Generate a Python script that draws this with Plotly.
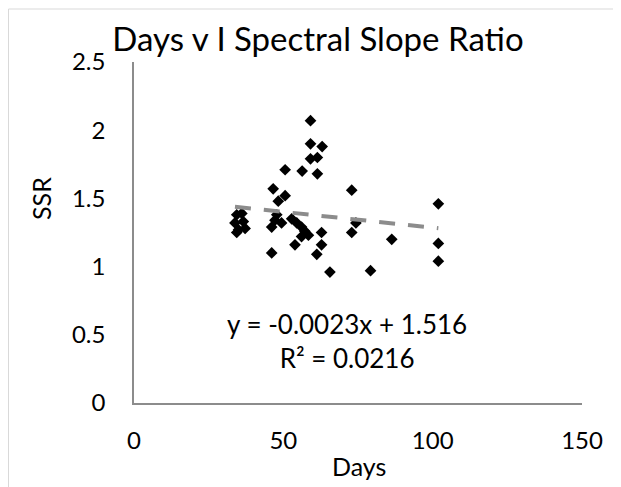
import plotly.graph_objects as go

days = [34.4, 36.1, 33.8, 36.6, 35.0, 37.2, 34.4,
        46.6, 50.6, 48.3, 50.6, 56.3, 61.4, 59.1, 59.1, 63.0, 59.1, 61.4,
        47.8, 46.1, 49.4, 47.2, 52.8, 54.5, 56.1, 57.2, 58.4, 56.1, 62.8,
        53.9, 62.8, 61.2, 46.1, 65.6,
        72.9, 101.9, 74.3, 72.9, 86.3, 101.9, 101.9, 79.2]
ssr = [1.38, 1.39, 1.32, 1.33, 1.27, 1.28, 1.25,
       1.57, 1.52, 1.48, 1.71, 1.70, 1.68, 2.07, 1.90, 1.88, 1.79, 1.80,
       1.38, 1.29, 1.32, 1.34, 1.35, 1.32, 1.29, 1.26, 1.23, 1.22, 1.25,
       1.16, 1.16, 1.09, 1.10, 0.96,
       1.56, 1.46, 1.32, 1.25, 1.20, 1.17, 1.04, 0.97]

slope = -0.0023
intercept = 1.516
r2 = 0.0216

x_ticks = [0, 50, 100, 150]
y_ticks = [0, 0.5, 1, 1.5, 2, 2.5]

FONT = "Lato"

trend_x = [min(days), max(days)]
trend_y = [slope * v + intercept for v in trend_x]

fig = go.Figure()
fig.add_trace(go.Scatter(x=days, y=ssr, mode="markers",
                         marker=dict(symbol="diamond", size=9, color="black"),
                         showlegend=False))
fig.add_trace(go.Scatter(x=trend_x, y=trend_y, mode="lines",
                         line=dict(color="#8c8c8c", width=4, dash="16px,13px"),
                         showlegend=False))

# page body has an 8px default margin; compensate
OFF = 8
W, H = 621 - OFF, 487 - OFF
L, R, T, B = 134 - OFF, 621 - 582, 62 - OFF, 487 - 403
pw, ph = W - L - R, H - T - B

def px(xw):
    return (xw - OFF - L) / pw

def py(yw):
    return (H - B - (yw - OFF)) / ph

fig.update_layout(
    width=W, height=H,
    margin=dict(l=L, r=R, t=T, b=B),
    paper_bgcolor="white", plot_bgcolor="white",
    font=dict(family=FONT, color="black", size=24),
    title=dict(text="Days v I Spectral Slope Ratio", x=(318 - OFF) / W, xanchor="center",
               y=1 - (39 - OFF) / H, yanchor="middle", font=dict(size=33, family=FONT)),
    xaxis=dict(range=[0, 150], tickvals=x_ticks, showgrid=False, zeroline=False,
               showline=True, linecolor="#8c8c8c", linewidth=1.5,
               ticks="outside", ticklen=15, tickcolor="rgba(0,0,0,0)",
               tickfont=dict(size=24)),
    yaxis=dict(range=[0, 2.5], tickvals=y_ticks, ticktext=[str(v) for v in y_ticks],
               showgrid=False, zeroline=False,
               showline=True, linecolor="#8c8c8c", linewidth=1.5,
               ticks="outside", ticklen=22, tickcolor="rgba(0,0,0,0)",
               tickfont=dict(size=24)),
    annotations=[
        dict(text="SSR", x=px(41), y=py(199), xref="paper", yref="paper",
             textangle=-90, showarrow=False, font=dict(size=25),
             xanchor="center", yanchor="middle"),
        dict(text="Days", x=px(359), y=py(466), xref="paper", yref="paper",
             showarrow=False, font=dict(size=25),
             xanchor="center", yanchor="middle"),
        dict(text="y = -0.0023x + 1.516<br>R² = 0.0216", x=px(347), y=py(341),
             xref="paper", yref="paper", showarrow=False, font=dict(size=26),
             xanchor="center", yanchor="middle", align="center"),
    ],
    shapes=[dict(type="rect", xref="paper", yref="paper",
                 x0=px(OFF + 0.5), x1=px(660), y0=py(520), y1=py(9),
                 line=dict(color="#d9d9d9", width=1), fillcolor="rgba(0,0,0,0)",
                 layer="below")],
)

fig.write_html("out.html")
